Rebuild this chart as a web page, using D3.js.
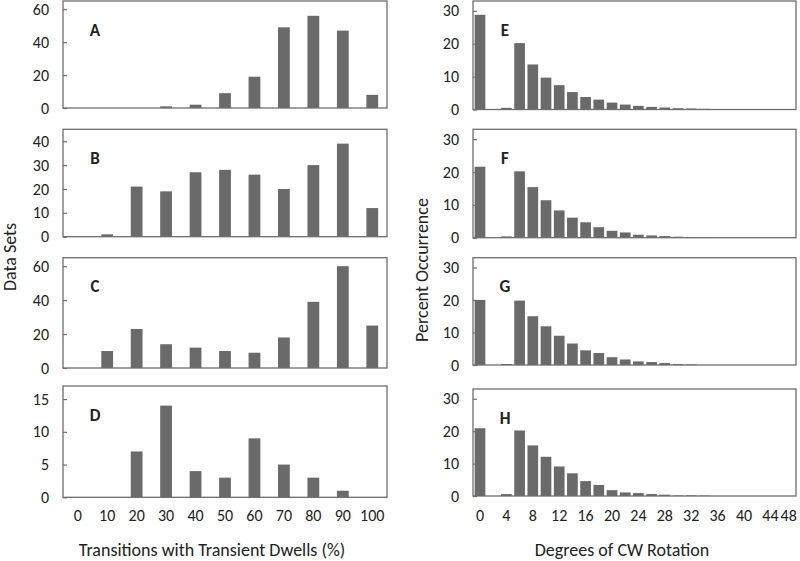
<!DOCTYPE html>
<html><head><meta charset="utf-8">
<script src="https://cdn.jsdelivr.net/npm/d3@7"></script>
<style>
body{margin:0;background:#fff;}
text{font-family:Carlito,"Open Sans","Noto Sans",sans-serif;fill:#222;}
</style></head>
<body><svg id="c" width="800" height="561"></svg>
<script>
// ---- data ----
const leftCategories = [0,10,20,30,40,50,60,70,80,90,100];
const seriesA = [0,0,0,1,2,9,19,49,56,47,8];
const seriesB = [0,1,21,19,27,28,26,20,30,39,12];
const seriesC = [0,10,23,14,12,10,9,18,39,60,25];
const seriesD = [0,0,7,14,4,3,9,5,3,1,0];
const leftTicksA = [0,20,40,60];
const leftTicksB = [0,10,20,30,40];
const leftTicksC = [0,20,40,60];
const leftTicksD = [0,5,10,15];
const rightCategories = [0,2,4,6,8,10,12,14,16,18,20,22,24,26,28,30,32,34,36,38,40,42,44,46,48];
const rightTickLabels = [0,4,8,12,16,20,24,28,32,36,40,44,48];
const seriesE = [28.8,0,0.5,20.2,13.7,9.7,7.4,5.3,3.8,3.0,2.1,1.5,1.1,0.8,0.6,0.4,0.3,0.2,0,0,0,0,0,0,0];
const seriesF = [21.6,0,0.4,20.2,15.4,11.4,8.3,6.1,4.7,3.2,2.1,1.6,0.9,0.7,0.5,0.3,0.2,0.1,0,0,0,0,0,0,0];
const seriesG = [20.0,0,0.3,19.8,15.0,11.9,9.0,6.6,4.5,3.7,2.4,1.7,1.1,0.9,0.6,0.3,0.2,0,0,0,0,0,0,0,0];
const seriesH = [20.9,0,0.6,20.2,15.6,12.1,9.1,7.0,4.6,3.4,1.8,1.1,0.9,0.6,0.4,0.15,0.2,0.1,0,0,0,0,0,0,0];
const rightTicks = [0,10,20,30];
const leftXTitle = "Transitions with Transient Dwells (%)";
const rightXTitle = "Degrees of CW Rotation";
const leftYTitle = "Data Sets";
const rightYTitle = "Percent Occurrence";

// ---- layout ----
const svg = d3.select("#c");
const barColor = "#6a6a6a", frameColor = "#6e6e6e";
const FONT = "Carlito,'Open Sans','Noto Sans',sans-serif";

const xLeft = d3.scaleBand().domain(leftCategories).range([63,387]).paddingInner(0.6).paddingOuter(0.3);
const xRight = d3.scaleBand().domain(rightCategories).range([473.4,803.4]).paddingInner(0.19).paddingOuter(0.095);

const panels = [
  {label:"A", data:seriesA, cats:leftCategories, x:xLeft, x0:63, x1:387, max:65, y0:108, y1:1, ticks:leftTicksA},
  {label:"B", data:seriesB, cats:leftCategories, x:xLeft, x0:63, x1:387, max:45, y0:236.7, y1:129.3, ticks:leftTicksB},
  {label:"C", data:seriesC, cats:leftCategories, x:xLeft, x0:63, x1:387, max:65, y0:368, y1:257.7, ticks:leftTicksC},
  {label:"D", data:seriesD, cats:leftCategories, x:xLeft, x0:63, x1:387, max:17, y0:497.3, y1:386, ticks:leftTicksD},
  {label:"E", data:seriesE, cats:rightCategories, x:xRight, x0:473, x1:796, max:33, y0:109.5, y1:1, ticks:rightTicks},
  {label:"F", data:seriesF, cats:rightCategories, x:xRight, x0:473, x1:796, max:33, y0:237.7, y1:129.3, ticks:rightTicks},
  {label:"G", data:seriesG, cats:rightCategories, x:xRight, x0:473, x1:796, max:33, y0:365, y1:257.7, ticks:rightTicks},
  {label:"H", data:seriesH, cats:rightCategories, x:xRight, x0:473, x1:796, max:33, y0:496, y1:389, ticks:rightTicks}
];

panels.forEach(p => {
  const y = d3.scaleLinear().domain([0,p.max]).range([p.y0,p.y1]);
  const g = svg.append("g");
  g.selectAll("rect.bar").data(p.cats.map((c,i)=>({c, v:p.data[i]})))
    .join("rect").attr("class","bar")
    .attr("x", d => p.x(d.c))
    .attr("width", p.x.bandwidth())
    .attr("y", d => y(d.v))
    .attr("height", d => y(0)-y(d.v))
    .attr("fill", barColor);
  g.append("rect").attr("x",p.x0).attr("y",p.y1).attr("width",p.x1-p.x0).attr("height",p.y0-p.y1)
    .attr("fill","none").attr("stroke",frameColor).attr("stroke-width",1.3);
  const ax = d3.axisLeft(y).tickValues(p.ticks).tickSize(-4).tickPadding(14).tickFormat(d3.format("d"));
  const ag = g.append("g").attr("transform",`translate(${p.x0},0)`).call(ax);
  ag.select(".domain").remove();
  ag.selectAll(".tick line").attr("stroke",frameColor).attr("stroke-width",1.2);
  ag.selectAll(".tick text").attr("font-size",16).attr("fill","#222").style("font-family",FONT);
  g.append("text").attr("x",p.x0+32).attr("y",p.y1+34.5).attr("text-anchor","middle")
    .attr("font-size",17).attr("font-weight","bold").text(p.label);
});

const xl = d3.axisBottom(xLeft).tickSize(0).tickPadding(0);
const xlg = svg.append("g").attr("transform","translate(0,510)").call(xl);
xlg.select(".domain").remove();
xlg.selectAll(".tick text").attr("font-size",16).attr("fill","#222").attr("dy","0.71em").style("font-family",FONT);

const xr = d3.axisBottom(xRight).tickValues(rightTickLabels).tickSize(0).tickPadding(0);
const xrg = svg.append("g").attr("transform","translate(0,510)").call(xr);
xrg.select(".domain").remove();
xrg.selectAll(".tick text").attr("font-size",16).attr("fill","#222").attr("dy","0.71em").style("font-family",FONT);
// keep the last label inside the canvas
xrg.selectAll(".tick text").filter(d => d === 48).attr("text-anchor","end").attr("x", 0);

svg.append("text").attr("x",212).attr("y",556).attr("text-anchor","middle").attr("font-size",18).text(leftXTitle);
svg.append("text").attr("x",622).attr("y",556).attr("text-anchor","middle").attr("font-size",18).text(rightXTitle);
svg.append("text").attr("transform","translate(16,257) rotate(-90)").attr("text-anchor","middle").attr("font-size",18).text(leftYTitle);
svg.append("text").attr("transform","translate(428,270) rotate(-90)").attr("text-anchor","middle").attr("font-size",18).text(rightYTitle);
</script></body></html>
